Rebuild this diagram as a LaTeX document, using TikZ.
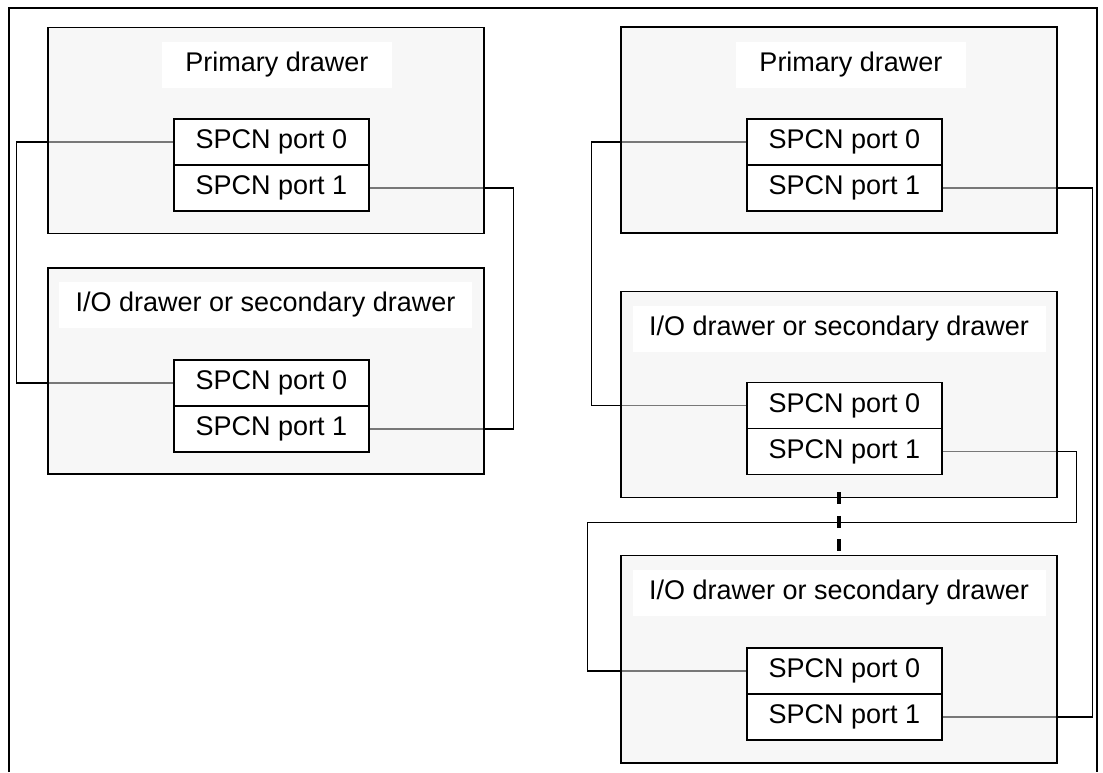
\documentclass[tikz,border=0pt]{standalone}
\usepackage{fontspec}
\setmainfont{Liberation Sans}
\usetikzlibrary{backgrounds}

\begin{document}
\begin{tikzpicture}[x=0.5pt, y=-0.5pt, node distance=23pt,
                    font=\fontsize{13.5}{16}\selectfont,
                    drawer node/.style={rectangle,draw,line width=0.75pt,fill=gray!12,fill opacity=0.5,
                                        minimum width=218pt,minimum height=103pt,inner sep=0pt},
                    title node/.style={rectangle,fill=white,minimum height=23pt,inner sep=0pt},
                    port node/.style={rectangle,draw,line width=0.7pt,fill=white,
                                      minimum width=97.5pt,minimum height=23pt,inner sep=0pt},
                    cable/.style={line width=0.6pt},
                    link/.style={line width=2pt,dash pattern=on 6pt off 5.75pt}]

  \useasboundingbox (0,0) rectangle (1103,772);
  \draw[line width=0.75pt] (9,772) -- (9,8) -- (1097,8) -- (1097,772);

  % left: two drawers
  \node[drawer node] (1) at (266,130.5) {};
  \node[title node,minimum width=115pt] (1t) at (277,65) {Primary drawer};
  \node[port node] (1a) at (271.5,142) {SPCN port 0};
  \node[port node] (1b) [below of=1a] {SPCN port 1};

  \node[drawer node] (2) at (266,371) {};
  \node[title node,minimum width=206.5pt] (2t) at (265.5,305) {I/O drawer or secondary drawer};
  \node[port node] (2a) at (271.5,383) {SPCN port 0};
  \node[port node] (2b) [below of=2a] {SPCN port 1};

  % right: three drawers
  \node[drawer node] (3) at (839,130) {};
  \node[title node,minimum width=115pt] (3t) at (851,65) {Primary drawer};
  \node[port node] (3a) at (844.5,142) {SPCN port 0};
  \node[port node] (3b) [below of=3a] {SPCN port 1};

  \node[drawer node] (4) at (839,394.5) {};
  \node[title node,minimum width=206.5pt] (4t) at (839,329) {I/O drawer or secondary drawer};
  \node[port node] (4a) at (844.5,405.5) {SPCN port 0};
  \node[port node] (4b) [below of=4a] {SPCN port 1};

  \node[drawer node,minimum height=103.75pt] (5) at (839,659.25) {};
  \node[title node,minimum width=206.5pt] (5t) at (839,593) {I/O drawer or secondary drawer};
  \node[port node] (5a) at (844.5,671) {SPCN port 0};
  \node[port node] (5b) [below of=5a] {SPCN port 1};

  \draw[link,shorten <=-3pt] (4.south) -- (5.north);

  \begin{pgfonlayer}{background}
    \draw[cable] (1a.west) -- ++(-157,0) |- (2a.west);
    \draw[cable] (1b.east) -- ++(144,0) |- (2b.east);
    \draw[cable] (3a.west) -- ++(-155,0) |- (4a.west);
    \draw[cable] (3b.east) -- ++(150,0) |- (5b.east);
    \draw[cable] (4b.east) -- ++(134,0) -- ++(0,71) -- ++(-489,0) |- (5a.west);
  \end{pgfonlayer}

\end{tikzpicture}
\end{document}
